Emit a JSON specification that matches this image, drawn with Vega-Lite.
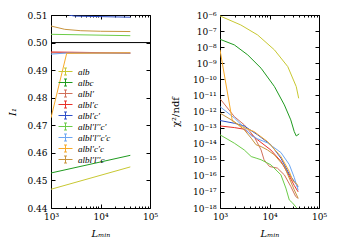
{
  "$schema": "https://vega.github.io/schema/vega-lite/v6.json",
  "background": "white",
  "padding": {"left": 6, "top": 10, "right": 0, "bottom": 0},
  "spacing": 70,
  "bounds": "flush",
  "datasets": {
    "left": [
      {"s": "alb", "L": 1000, "I": 0.4468},
      {"s": "alb", "L": 40000, "I": 0.4549},
      {"s": "albc", "L": 1000, "I": 0.4527},
      {"s": "albc", "L": 40000, "I": 0.4591},
      {"s": "albl′", "L": 1000, "I": 0.4963},
      {"s": "albl′", "L": 40000, "I": 0.4961},
      {"s": "albl′c", "L": 1000, "I": 0.4966},
      {"s": "albl′c", "L": 40000, "I": 0.4962},
      {"s": "albl′c′", "L": 2300, "I": 0.5100},
      {"s": "albl′c′", "L": 3000, "I": 0.5096},
      {"s": "albl′c′", "L": 40000, "I": 0.5092},
      {"s": "albl′l′′c′", "L": 1000, "I": 0.5030},
      {"s": "albl′l′′c′", "L": 40000, "I": 0.5025},
      {"s": "albl′l′′c′c", "L": 1000, "I": 0.4958},
      {"s": "albl′l′′c′c", "L": 2000, "I": 0.4962},
      {"s": "albl′l′′c′c", "L": 40000, "I": 0.4962},
      {"s": "albl′c′c", "L": 1000, "I": 0.4727},
      {"s": "albl′c′c", "L": 2075, "I": 0.4961},
      {"s": "albl′c′c", "L": 40000, "I": 0.4963},
      {"s": "albl′l′′c", "L": 1000, "I": 0.5060},
      {"s": "albl′l′′c", "L": 1900, "I": 0.5048},
      {"s": "albl′l′′c", "L": 4000, "I": 0.5043},
      {"s": "albl′l′′c", "L": 10000, "I": 0.5041},
      {"s": "albl′l′′c", "L": 40000, "I": 0.5040}
    ],
    "right": [
      {"s": "alb", "L": 1000, "chi": 8.71e-7},
      {"s": "alb", "L": 2630, "chi": 2.40e-7},
      {"s": "alb", "L": 5750, "chi": 5.75e-8},
      {"s": "alb", "L": 12590, "chi": 6.76e-9},
      {"s": "alb", "L": 23400, "chi": 6.17e-10},
      {"s": "alb", "L": 34700, "chi": 3.55e-11},
      {"s": "alb", "L": 38900, "chi": 6.61e-12},
      {"s": "albc", "L": 1000, "chi": 3.09e-8},
      {"s": "albc", "L": 1950, "chi": 1.38e-8},
      {"s": "albc", "L": 3630, "chi": 3.31e-9},
      {"s": "albc", "L": 6760, "chi": 4.90e-10},
      {"s": "albc", "L": 12590, "chi": 3.55e-11},
      {"s": "albc", "L": 19950, "chi": 2.57e-12},
      {"s": "albc", "L": 26900, "chi": 3.02e-13},
      {"s": "albc", "L": 31600, "chi": 5.62e-14},
      {"s": "albc", "L": 34700, "chi": 3.02e-14},
      {"s": "albc", "L": 39800, "chi": 4.07e-14},
      {"s": "albl′", "L": 1000, "chi": 6.31e-12},
      {"s": "albl′", "L": 1950, "chi": 4.79e-13},
      {"s": "albl′", "L": 3090, "chi": 1.48e-13},
      {"s": "albl′", "L": 4900, "chi": 2.75e-14},
      {"s": "albl′", "L": 6760, "chi": 4.07e-15},
      {"s": "albl′", "L": 7760, "chi": 1.0e-15},
      {"s": "albl′", "L": 10000, "chi": 3.80e-16},
      {"s": "albl′", "L": 14450, "chi": 3.02e-16},
      {"s": "albl′", "L": 19950, "chi": 1.15e-16},
      {"s": "albl′", "L": 26900, "chi": 2.19e-17},
      {"s": "albl′", "L": 33900, "chi": 5.13e-18},
      {"s": "albl′", "L": 38000, "chi": 3.98e-18},
      {"s": "albl′c", "L": 1000, "chi": 1.26e-13},
      {"s": "albl′c", "L": 1950, "chi": 1.0e-13},
      {"s": "albl′c", "L": 3090, "chi": 7.94e-14},
      {"s": "albl′c", "L": 5750, "chi": 1.74e-14},
      {"s": "albl′c", "L": 10700, "chi": 3.98e-15},
      {"s": "albl′c", "L": 17000, "chi": 7.94e-16},
      {"s": "albl′c", "L": 25100, "chi": 1.0e-16},
      {"s": "albl′c", "L": 31600, "chi": 2.51e-17},
      {"s": "albl′c", "L": 38000, "chi": 1.0e-17},
      {"s": "albl′c′", "L": 1000, "chi": 2.75e-13},
      {"s": "albl′c′", "L": 1950, "chi": 1.86e-13},
      {"s": "albl′c′", "L": 3090, "chi": 1.26e-13},
      {"s": "albl′c′", "L": 5750, "chi": 3.55e-14},
      {"s": "albl′c′", "L": 10700, "chi": 8.51e-15},
      {"s": "albl′c′", "L": 17000, "chi": 1.26e-15},
      {"s": "albl′c′", "L": 25100, "chi": 1.26e-16},
      {"s": "albl′c′", "L": 31600, "chi": 4.47e-17},
      {"s": "albl′c′", "L": 38000, "chi": 2.0e-17},
      {"s": "albl′l′′c′", "L": 1000, "chi": 3.55e-14},
      {"s": "albl′l′′c′", "L": 1950, "chi": 1.07e-14},
      {"s": "albl′l′′c′", "L": 3090, "chi": 4.07e-15},
      {"s": "albl′l′′c′", "L": 4270, "chi": 1.58e-15},
      {"s": "albl′l′′c′", "L": 5370, "chi": 1.26e-15},
      {"s": "albl′l′′c′", "L": 6760, "chi": 1.0e-15},
      {"s": "albl′l′′c′", "L": 10700, "chi": 4.79e-16},
      {"s": "albl′l′′c′", "L": 17000, "chi": 1.15e-16},
      {"s": "albl′l′′c′", "L": 21400, "chi": 1.74e-17},
      {"s": "albl′l′′c′", "L": 25100, "chi": 3.16e-18},
      {"s": "albl′l′′c′", "L": 29500, "chi": 2.0e-18},
      {"s": "albl′l′′c′", "L": 35500, "chi": 1.0e-18},
      {"s": "albl′l′′c′c", "L": 1000, "chi": 2.0e-12},
      {"s": "albl′l′′c′c", "L": 1950, "chi": 3.98e-13},
      {"s": "albl′l′′c′c", "L": 3090, "chi": 1.0e-13},
      {"s": "albl′l′′c′c", "L": 4270, "chi": 3.16e-14},
      {"s": "albl′l′′c′c", "L": 5750, "chi": 2.0e-14},
      {"s": "albl′l′′c′c", "L": 9120, "chi": 1.12e-14},
      {"s": "albl′l′′c′c", "L": 17000, "chi": 2.82e-15},
      {"s": "albl′l′′c′c", "L": 25100, "chi": 5.01e-16},
      {"s": "albl′l′′c′c", "L": 31600, "chi": 7.94e-17},
      {"s": "albl′l′′c′c", "L": 38000, "chi": 1.26e-17},
      {"s": "albl′c′c", "L": 1000, "chi": 6.76e-9},
      {"s": "albl′c′c", "L": 1780, "chi": 2.51e-13},
      {"s": "albl′c′c", "L": 2820, "chi": 1.12e-13},
      {"s": "albl′c′c", "L": 4900, "chi": 5.62e-14},
      {"s": "albl′c′c", "L": 9120, "chi": 1.35e-14},
      {"s": "albl′c′c", "L": 17000, "chi": 1.58e-15},
      {"s": "albl′c′c", "L": 25100, "chi": 1.86e-16},
      {"s": "albl′c′c", "L": 29500, "chi": 5.01e-17},
      {"s": "albl′c′c", "L": 33900, "chi": 3.55e-17},
      {"s": "albl′c′c", "L": 38000, "chi": 2.51e-17},
      {"s": "albl′l′′c", "L": 1000, "chi": 7.94e-13},
      {"s": "albl′l′′c", "L": 1950, "chi": 2.34e-13},
      {"s": "albl′l′′c", "L": 3090, "chi": 7.24e-14},
      {"s": "albl′l′′c", "L": 4270, "chi": 2.19e-14},
      {"s": "albl′l′′c", "L": 5370, "chi": 8.51e-15},
      {"s": "albl′l′′c", "L": 6760, "chi": 6.61e-15},
      {"s": "albl′l′′c", "L": 9120, "chi": 4.07e-15},
      {"s": "albl′l′′c", "L": 12590, "chi": 2.0e-15},
      {"s": "albl′l′′c", "L": 19950, "chi": 3.80e-16},
      {"s": "albl′l′′c", "L": 31600, "chi": 1.35e-17},
      {"s": "albl′l′′c", "L": 38000, "chi": 3.98e-18}
    ]
  },
  "config": {
    "view": {"stroke": "black", "strokeWidth": 1},
    "axis": {
      "domain": false, "grid": false,
      "labelFont": "DejaVu Serif", "labelFontSize": 9, "labelColor": "black",
      "tickColor": "black", "tickWidth": 1,
      "titleFont": "DejaVu Serif", "titleFontSize": 10, "titleFontStyle": "italic",
      "titleFontWeight": "normal", "titleColor": "black"
    },
    "legend": {
      "orient": "none", "legendX": 9, "legendY": 51, "padding": 0,
      "title": null,
      "symbolType": "M-1.4,0H1.4M0,-0.7V0.7M-0.3,-0.7H0.3M-0.3,0.7H0.3",
      "symbolSize": 100, "symbolStrokeWidth": 1, "symbolFillColor": "transparent",
      "labelFont": "Liberation Serif", "labelFontStyle": "italic", "labelFontSize": 9,
      "labelColor": "black", "labelOffset": 7, "rowPadding": 0
    }
  },
  "hconcat": [
    {
      "width": 99, "height": 193,
      "data": {"name": "left"},
      "layer": [
        {
          "mark": {"type": "line", "clip": true, "strokeWidth": 1},
          "encoding": {
            "x": {"field": "L", "type": "quantitative",
              "scale": {"type": "log", "domain": [1000, 100000]},
              "axis": {"orient": "bottom",
                "values": [1000, 2000, 3000, 4000, 5000, 6000, 7000, 8000, 9000, 10000, 20000, 30000, 40000, 50000, 60000, 70000, 80000, 90000, 100000],
                "labelExpr": "datum.value == 1000 ? '10³' : datum.value == 10000 ? '10⁴' : datum.value == 100000 ? '10⁵' : ''",
                "tickSize": {"condition": {"test": "datum.value == 1000 || datum.value == 10000 || datum.value == 100000", "value": -4}, "value": -2},
                "labelPadding": 8, "labelFlush": false,
                "title": "Lₘᵢₙ", "titleY": 25, "titleBaseline": "middle"}},
            "y": {"field": "I", "type": "quantitative",
              "scale": {"domain": [0.44, 0.51], "zero": false, "nice": false},
              "axis": {"orient": "left",
                "values": [0.44, 0.45, 0.46, 0.47, 0.48, 0.49, 0.5, 0.51],
                "format": ".2f", "tickSize": -4, "labelPadding": 8,
                "title": "I₁", "titleX": -39, "titleY": 96.5, "titleBaseline": "middle"}},
            "color": {"field": "s", "type": "nominal",
              "scale": {"domain": ["alb", "albc", "albl′", "albl′c", "albl′c′", "albl′l′′c′", "albl′l′′c′c", "albl′c′c", "albl′l′′c"],
                "range": ["#c8c832", "#1f9a1f", "#d0705a", "#e8302a", "#2f4fc8", "#6ccc48", "#6ca6f2", "#f7aa2a", "#c8943e"]},
              "legend": {}}
          }
        },
        {
          "data": {"values": [{}]},
          "mark": {"type": "rule", "color": "black", "strokeWidth": 1},
          "encoding": {"y": {"datum": 0.5, "type": "quantitative", "axis": null}}
        },
        {
          "mark": {"type": "point", "opacity": 0},
          "encoding": {
            "x": {"field": "L", "type": "quantitative",
              "axis": {"orient": "top",
                "values": [1000, 2000, 3000, 4000, 5000, 6000, 7000, 8000, 9000, 10000, 20000, 30000, 40000, 50000, 60000, 70000, 80000, 90000, 100000],
                "labels": false, "title": null,
                "tickSize": {"condition": {"test": "datum.value == 1000 || datum.value == 10000 || datum.value == 100000", "value": -4}, "value": -2}}},
            "y": {"field": "I", "type": "quantitative",
              "axis": {"orient": "right", "values": [0.44, 0.45, 0.46, 0.47, 0.48, 0.49, 0.5, 0.51],
                "labels": false, "title": null, "tickSize": -4}}
          }
        }
      ],
      "resolve": {"axis": {"x": "independent", "y": "independent"}}
    },
    {
      "width": 99, "height": 193,
      "data": {"name": "right"},
      "layer": [
        {
          "mark": {"type": "line", "clip": true, "strokeWidth": 1},
          "encoding": {
            "x": {"field": "L", "type": "quantitative",
              "scale": {"type": "log", "domain": [1000, 100000]},
              "axis": {"orient": "bottom",
                "values": [1000, 2000, 3000, 4000, 5000, 6000, 7000, 8000, 9000, 10000, 20000, 30000, 40000, 50000, 60000, 70000, 80000, 90000, 100000],
                "labelExpr": "datum.value == 1000 ? '10³' : datum.value == 10000 ? '10⁴' : datum.value == 100000 ? '10⁵' : ''",
                "tickSize": {"condition": {"test": "datum.value == 1000 || datum.value == 10000 || datum.value == 100000", "value": -4}, "value": -2},
                "labelPadding": 8, "labelFlush": false,
                "title": "Lₘᵢₙ", "titleY": 25, "titleBaseline": "middle"}},
            "y": {"field": "chi", "type": "quantitative",
              "scale": {"type": "log", "domain": [1e-18, 1e-6]},
              "axis": {"orient": "left",
                "values": [1e-18, 1e-17, 1e-16, 1e-15, 1e-14, 1e-13, 1e-12, 1e-11, 1e-10, 1e-9, 1e-8, 1e-7, 1e-6],
                "labelExpr": "['10⁻¹⁸','10⁻¹⁷','10⁻¹⁶','10⁻¹⁵','10⁻¹⁴','10⁻¹³','10⁻¹²','10⁻¹¹','10⁻¹⁰','10⁻⁹','10⁻⁸','10⁻⁷','10⁻⁶'][round(log(datum.value)/LN10)+18]",
                "tickSize": -4, "labelPadding": 8,
                "title": "χ²/ndf", "titleFontStyle": "normal", "titleX": -45, "titleY": 96.5, "titleBaseline": "middle"}},
            "color": {"field": "s", "type": "nominal",
              "scale": {"domain": ["alb", "albc", "albl′", "albl′c", "albl′c′", "albl′l′′c′", "albl′l′′c′c", "albl′c′c", "albl′l′′c"],
                "range": ["#c8c832", "#1f9a1f", "#d0705a", "#e8302a", "#2f4fc8", "#6ccc48", "#6ca6f2", "#f7aa2a", "#c8943e"]},
              "legend": {}}
          }
        },
        {
          "mark": {"type": "point", "opacity": 0},
          "encoding": {
            "x": {"field": "L", "type": "quantitative",
              "axis": {"orient": "top",
                "values": [1000, 2000, 3000, 4000, 5000, 6000, 7000, 8000, 9000, 10000, 20000, 30000, 40000, 50000, 60000, 70000, 80000, 90000, 100000],
                "labels": false, "title": null,
                "tickSize": {"condition": {"test": "datum.value == 1000 || datum.value == 10000 || datum.value == 100000", "value": -4}, "value": -2}}},
            "y": {"field": "chi", "type": "quantitative",
              "axis": {"orient": "right",
                "values": [1e-18, 1e-17, 1e-16, 1e-15, 1e-14, 1e-13, 1e-12, 1e-11, 1e-10, 1e-9, 1e-8, 1e-7, 1e-6],
                "labels": false, "title": null, "tickSize": -4}}
          }
        }
      ],
      "resolve": {"axis": {"x": "independent", "y": "independent"}}
    }
  ]
}
